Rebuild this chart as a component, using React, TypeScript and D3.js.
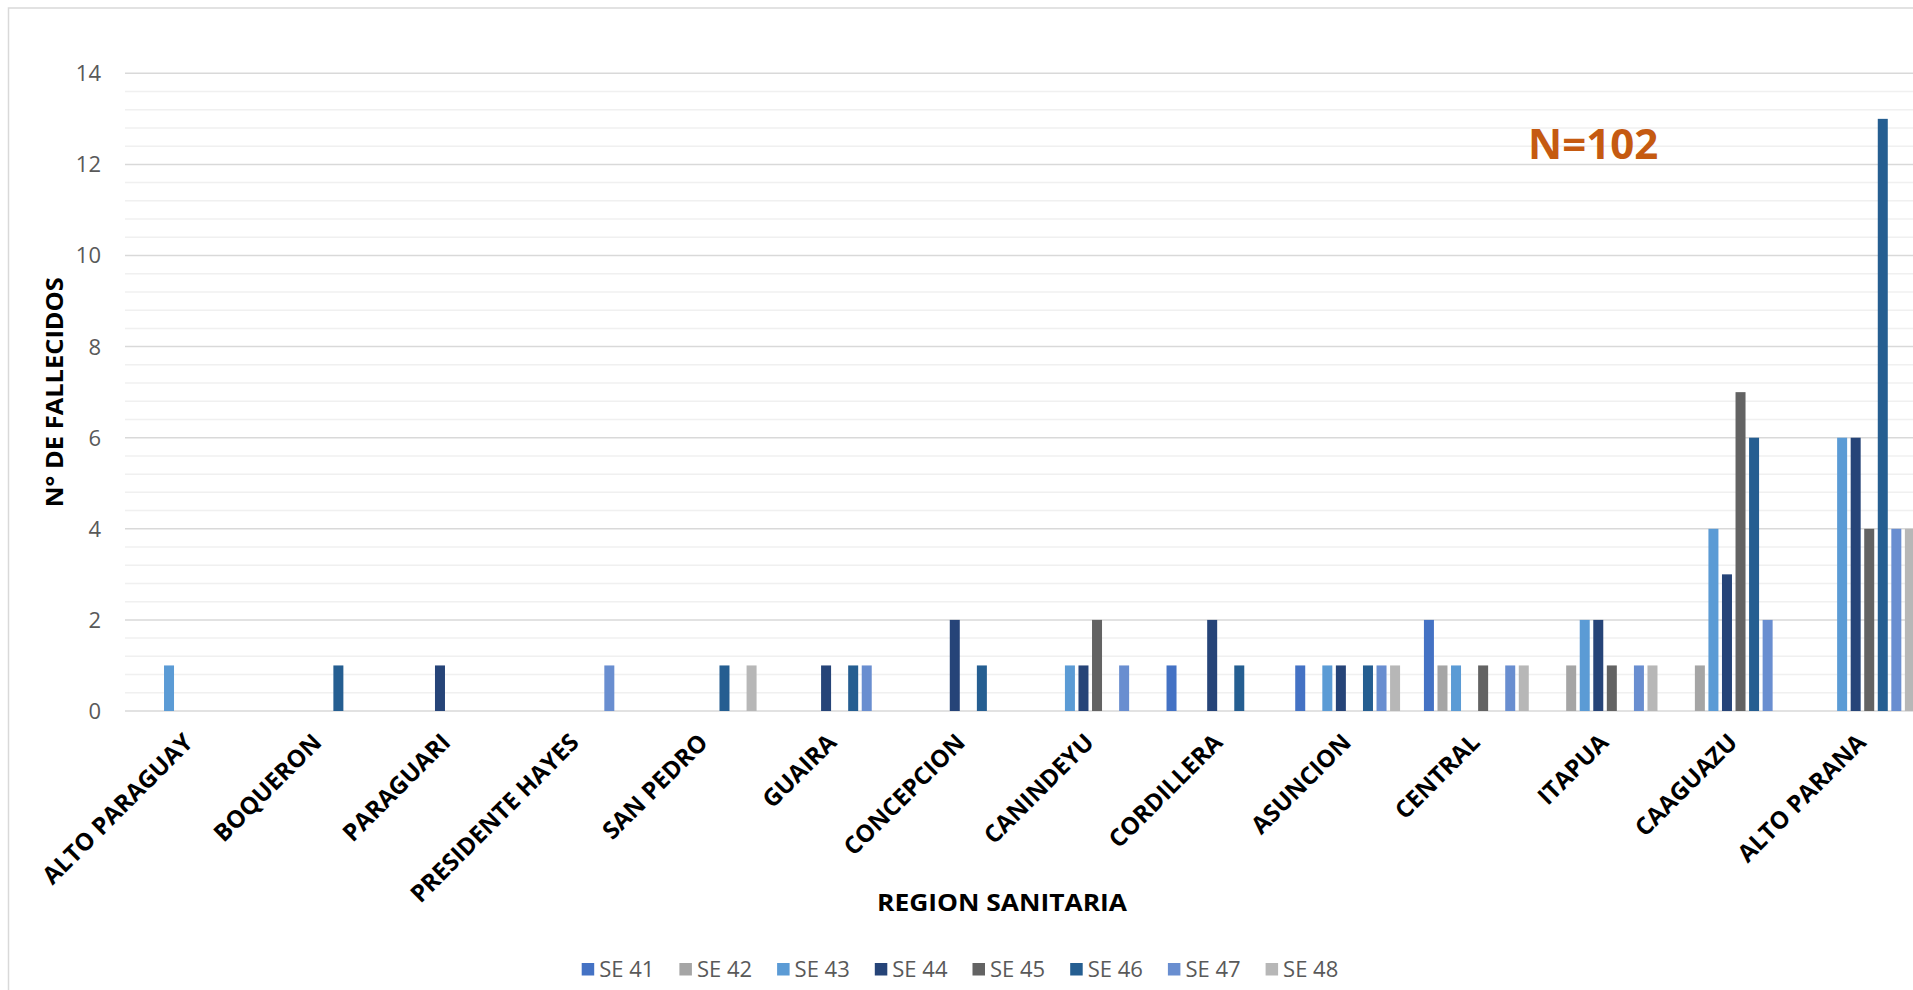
import React from "react";
import * as d3 from "d3";

const categories = [
  "ALTO PARAGUAY", "BOQUERON", "PARAGUARI", "PRESIDENTE HAYES", "SAN PEDRO",
  "GUAIRA", "CONCEPCION", "CANINDEYU", "CORDILLERA", "ASUNCION",
  "CENTRAL", "ITAPUA", "CAAGUAZU", "ALTO PARANA",
];
const seriesNames = ["SE 41", "SE 42", "SE 43", "SE 44", "SE 45", "SE 46", "SE 47", "SE 48"];
const seriesColors = ["#4472C4", "#A5A5A5", "#5B9BD5", "#264478", "#636363", "#255E91", "#698ED0", "#B7B7B7"];

const se41 = [0, 0, 0, 0, 0, 0, 0, 0, 1, 1, 2, 0, 0, 0];
const se42 = [0, 0, 0, 0, 0, 0, 0, 0, 0, 0, 1, 1, 1, 0];
const se43 = [1, 0, 0, 0, 0, 0, 0, 1, 0, 1, 1, 2, 4, 6];
const se44 = [0, 0, 1, 0, 0, 1, 2, 1, 2, 1, 0, 2, 3, 6];
const se45 = [0, 0, 0, 0, 0, 0, 0, 2, 0, 0, 1, 1, 7, 4];
const se46 = [0, 1, 0, 0, 1, 1, 1, 0, 1, 1, 0, 0, 6, 13];
const se47 = [0, 0, 0, 1, 0, 1, 0, 1, 0, 1, 1, 1, 2, 4];
const se48 = [0, 0, 0, 0, 1, 0, 0, 0, 0, 1, 1, 1, 0, 4];
const seriesValues = [se41, se42, se43, se44, se45, se46, se47, se48];

const yMajorTicks = [0, 2, 4, 6, 8, 10, 12, 14];
const yAxisTitle = "N° DE FALLECIDOS";
const xAxisTitle = "REGION SANITARIA";
const annotation = "N=102";

const FONT = "'Open Sans', 'Noto Sans', sans-serif";

export default function App() {
  const W = 1913;
  const H = 990;
  const plotLeft = 125;
  const band = 128.7;
  const plotRight = plotLeft + band * categories.length;
  const plotTop = 73.3;
  const plotBottom = 711;

  const x0 = d3.scaleBand<string>().domain(categories).range([plotLeft, plotRight]).padding(0);
  const step = 13.55;
  const groupW = step * seriesNames.length;
  const x1 = d3
    .scaleBand<string>()
    .domain(seriesNames)
    .range([(band - groupW) / 2, (band + groupW) / 2])
    .padding(0);
  const barW = 10;
  const y = d3.scaleLinear().domain([0, 14]).range([plotBottom, plotTop]);

  const minorTicks = d3.range(0, 14.0001, 0.4).filter(
    (v) => Math.abs(v / 2 - Math.round(v / 2)) > 1e-6
  );

  const legendStart = 581.7;
  const legendStep = 97.7;
  const legendX = d3
    .scaleLinear()
    .domain([0, seriesNames.length - 1])
    .range([legendStart, legendStart + legendStep * (seriesNames.length - 1)]);

  return (
    <div style={{ position: "fixed", left: 0, top: 0, width: W, height: H, overflow: "hidden", background: "#fff" }}>
      <svg width={W} height={H} style={{ display: "block" }}>
        <rect x={8.5} y={8} width={W + 20} height={H + 20} fill="#fff" stroke="#d9d9d9" strokeWidth={1.5} />

        {minorTicks.map((v, i) => (
          <line key={"mn" + i} x1={plotLeft} x2={plotRight} y1={y(v)} y2={y(v)} stroke="#f0f0f0" strokeWidth={1.5} />
        ))}
        {yMajorTicks.map((v) => (
          <line key={"mj" + v} x1={plotLeft} x2={plotRight} y1={y(v)} y2={y(v)} stroke="#d9d9d9" strokeWidth={1.5} />
        ))}

        {yMajorTicks.map((v) => (
          <text
            key={"yt" + v}
            x={101}
            y={y(v)}
            dy="0.36em"
            textAnchor="end"
            fontFamily={FONT}
            fontSize={22}
            fill="#595959"
          >
            {v}
          </text>
        ))}

        {seriesNames.map((s, si) =>
          categories.map((c, ci) => {
            const v = seriesValues[si][ci];
            if (!v) return null;
            const bx = (x0(c) as number) + (x1(s) as number) + (x1.bandwidth() - barW) / 2;
            return (
              <rect
                key={s + c}
                x={bx}
                y={y(v)}
                width={barW}
                height={y(0) - y(v)}
                fill={seriesColors[si]}
              />
            );
          })
        )}

        {categories.map((c) => {
          const cx = (x0(c) as number) + band / 2;
          return (
            <text
              key={"cl" + c}
              transform={`translate(${cx + 5},${744}) rotate(-45)`}
              textAnchor="end"
              fontFamily={FONT}
              fontWeight={700}
              fontSize={24}
              fill="#000"
            >
              {c}
            </text>
          );
        })}

        <text
          transform={`translate(${63},${(plotTop + plotBottom) / 2}) rotate(-90)`}
          textAnchor="middle"
          fontFamily={FONT}
          fontWeight={700}
          fontSize={24}
          textLength={230}
          lengthAdjust="spacingAndGlyphs"
          fill="#000"
        >
          {yAxisTitle}
        </text>

        <text
          x={1002}
          y={910.5}
          textAnchor="middle"
          fontFamily={FONT}
          fontWeight={700}
          fontSize={24}
          textLength={250}
          lengthAdjust="spacingAndGlyphs"
          fill="#000"
        >
          {xAxisTitle}
        </text>

        <text x={1528} y={159} fontFamily={FONT} fontWeight={700} fontSize={42} fill="#C55A11">
          {annotation}
        </text>

        {seriesNames.map((s, i) => (
          <g key={"lg" + s} transform={`translate(${legendX(i)},0)`}>
            <rect x={0} y={963} width={12.5} height={12.5} fill={seriesColors[i]} />
            <text x={17.5} y={977.3} fontFamily={FONT} fontSize={22} fill="#595959">
              {s}
            </text>
          </g>
        ))}
      </svg>
    </div>
  );
}
